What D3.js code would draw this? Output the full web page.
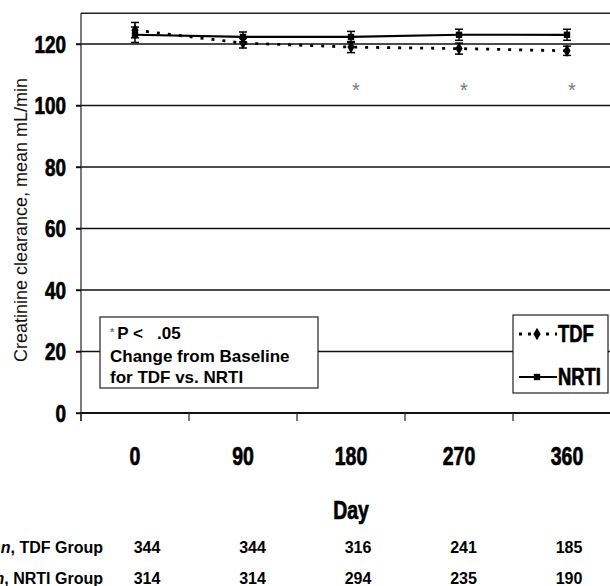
<!DOCTYPE html>
<html><head><meta charset="utf-8">
<script src="https://cdn.jsdelivr.net/npm/d3@7"></script>
<style>html,body{margin:0;padding:0;background:#fff;}svg{display:block;}</style>
</head><body>
<script>
const days = ["0", "90", "180", "270", "360"];
const tdfMean = [124.5, 120.3, 119.0, 118.5, 117.8];
const nrtiMean = [123.0, 122.3, 122.3, 123.0, 123.0];
const tdfErr = [2.5, 1.6, 1.8, 1.8, 1.5];
const nrtiErr = [2.5, 1.6, 1.8, 1.8, 1.8];
const sigDays = ["180", "270", "360"];
const sigLevel = 106.5;
const yTicks = [0, 20, 40, 60, 80, 100, 120];
const nTDF = [344, 344, 316, 241, 185];
const nNRTI = [314, 314, 294, 235, 190];
const rowLabels = ["TDF Group", "NRTI Group"];
const seriesNames = ["TDF", "NRTI"];
const noteLines = ["Change from Baseline", "for TDF vs. NRTI"];

const W = 610, H = 586;
const sans = "'Liberation Sans',Arial,sans-serif";

const svg = d3.select("body").append("svg").attr("width", W).attr("height", H);

const x = d3.scaleBand().domain(days).range([81, 621]).padding(0);
const y = d3.scaleLinear().domain([0, 130]).range([413, 413 - 130 * 3.075]);
const cx = d => x(d) + x.bandwidth() / 2;

function ctext(parent, px, py, str, size, anchor, sx) {
  const g = parent.append("g").attr("transform", `translate(${px},${py}) scale(${sx},1)`);
  return g.append("text").attr("text-anchor", anchor).attr("font-family", sans)
    .attr("font-weight", "bold").attr("font-size", size).attr("fill", "#000")
    .attr("stroke", "#000").attr("stroke-width", 0.7).text(str);
}

// gridlines
svg.append("g").selectAll("line").data(yTicks).join("line")
  .attr("x1", 76).attr("x2", W).attr("y1", d => y(d)).attr("y2", d => y(d))
  .attr("stroke", "#111").attr("stroke-width", 1.6);
// top border
svg.append("line").attr("x1", 81).attr("x2", W).attr("y1", y(130)).attr("y2", y(130))
  .attr("stroke", "#222").attr("stroke-width", 1.6);

// y axis
const yAxis = svg.append("g").attr("transform", "translate(81,0)")
  .call(d3.axisLeft(y).tickValues(yTicks).tickSize(5));
yAxis.select(".domain").attr("stroke", "#222").attr("stroke-width", 1.2)
  .attr("d", `M0,${y(130)}V${y(0) + 8}`);
yAxis.selectAll(".tick line").attr("stroke", "#111").attr("stroke-width", 1.4);
yAxis.selectAll(".tick text").attr("font-family", sans).attr("font-weight", "bold")
  .attr("font-size", 23).attr("fill", "#000").attr("stroke", "#000").attr("stroke-width", 0.7)
  .attr("x", -15 / 0.82).attr("dy", "0.36em").attr("transform", "scale(0.82,1)");

// x axis (ticks at band boundaries)
const xAxisG = svg.append("g");
xAxisG.append("line").attr("x1", 81).attr("x2", W).attr("y1", y(0)).attr("y2", y(0))
  .attr("stroke", "#111").attr("stroke-width", 1.8);
xAxisG.selectAll("line.tk").data(days).join("line").attr("class", "tk")
  .attr("x1", d => x(d)).attr("x2", d => x(d)).attr("y1", y(0)).attr("y2", y(0) + 8)
  .attr("stroke", "#222").attr("stroke-width", 1.2);
days.forEach(d => ctext(xAxisG, cx(d), 465, d, 25, "middle", 0.78));

ctext(svg, cx("180"), 519, "Day", 25, "middle", 0.78);

// y title
svg.append("text").attr("transform", "translate(27,220) rotate(-90)").attr("text-anchor", "middle")
  .attr("font-family", sans).attr("font-size", 18).attr("fill", "#111")
  .text("Creatinine clearance, mean mL/min");

// lines
const line = d3.line().x((d, i) => cx(days[i])).y(d => y(d));
svg.append("path").datum(nrtiMean).attr("d", line).attr("fill", "none")
  .attr("stroke", "#000").attr("stroke-width", 2.2);
svg.append("path").datum(tdfMean).attr("d", line).attr("fill", "none")
  .attr("stroke", "#000").attr("stroke-width", 2.8).attr("stroke-dasharray", "3,8");

// error bars
function errBars(mean, err) {
  const g = svg.append("g").attr("stroke", "#000").attr("stroke-width", 1.5);
  mean.forEach((m, i) => {
    const xc = cx(days[i]);
    g.append("line").attr("x1", xc).attr("x2", xc).attr("y1", y(m + err[i])).attr("y2", y(m - err[i]));
    g.append("line").attr("x1", xc - 4).attr("x2", xc + 4).attr("y1", y(m + err[i])).attr("y2", y(m + err[i]));
    g.append("line").attr("x1", xc - 4).attr("x2", xc + 4).attr("y1", y(m - err[i])).attr("y2", y(m - err[i]));
  });
}
errBars(tdfMean, tdfErr);
errBars(nrtiMean, nrtiErr);

// markers
const diamond = d3.symbol().type(d3.symbolDiamond).size(45);
const square = d3.symbol().type(d3.symbolSquare).size(40);
svg.append("g").selectAll("path").data(tdfMean).join("path")
  .attr("transform", (d, i) => `translate(${cx(days[i])},${y(d)})`).attr("d", diamond).attr("fill", "#000");
svg.append("g").selectAll("path").data(nrtiMean).join("path")
  .attr("transform", (d, i) => `translate(${cx(days[i])},${y(d)})`).attr("d", square).attr("fill", "#000");

// significance asterisks
svg.append("g").selectAll("text").data(sigDays).join("text")
  .attr("x", d => cx(d) + 5).attr("y", y(sigLevel) + 11).attr("text-anchor", "middle")
  .attr("font-family", sans).attr("font-size", 20).attr("fill", "#777").text("*");

// annotation box
const nb = svg.append("g");
nb.append("rect").attr("x", 100).attr("y", 317).attr("width", 218).attr("height", 71)
  .attr("fill", "#fff").attr("stroke", "#222").attr("stroke-width", 1.2);
const t1 = nb.append("text").attr("x", 110).attr("y", 339).attr("font-family", sans)
  .attr("font-weight", "bold").attr("font-size", 17);
t1.append("tspan").attr("font-size", 11).attr("fill", "#777").attr("dy", -3).text("*");
t1.append("tspan").attr("dy", 3).attr("dx", 3).text("P <");
t1.append("tspan").attr("dx", 14).text(".05");
nb.selectAll("text.nl").data(noteLines).join("text").attr("class", "nl")
  .attr("x", 110).attr("y", (d, i) => 362 + i * 21).attr("font-family", sans)
  .attr("font-weight", "bold").attr("font-size", 17).text(d => d);

// legend
const lg = svg.append("g");
lg.append("rect").attr("x", 513).attr("y", 315).attr("width", 95).attr("height", 78)
  .attr("fill", "#fff").attr("stroke", "#222").attr("stroke-width", 1.2);
const legY = [334, 377];
seriesNames.forEach((s, i) => {
  const ly = legY[i];
  lg.append("line").attr("x1", 519).attr("x2", 557).attr("y1", ly).attr("y2", ly)
    .attr("stroke", "#000").attr("stroke-width", i === 0 ? 2.8 : 2.2)
    .attr("stroke-dasharray", i === 0 ? "3,6" : null);
  lg.append("path").attr("transform", `translate(537,${ly})`).attr("d", i === 0 ? diamond : square).attr("fill", "#000");
  ctext(lg, 558, ly + 8, s, 23, "start", 0.8);
});

// sample size table
const col = d3.scalePoint().domain(days).range([147, 569]);
[nTDF, nNRTI].forEach((row, r) => {
  const ry = 553 + r * 31;
  const lab = svg.append("text").attr("x", 103).attr("y", ry).attr("text-anchor", "end")
    .attr("font-family", sans).attr("font-weight", "bold").attr("font-size", 16);
  lab.append("tspan").attr("font-style", "italic").text("n");
  lab.append("tspan").text(", " + rowLabels[r]);
  svg.append("g").selectAll("text").data(row).join("text")
    .attr("x", (d, i) => col(days[i])).attr("y", ry).attr("text-anchor", "middle")
    .attr("font-family", sans).attr("font-weight", "bold").attr("font-size", 16).text(d => d);
});
</script>
</body></html>
